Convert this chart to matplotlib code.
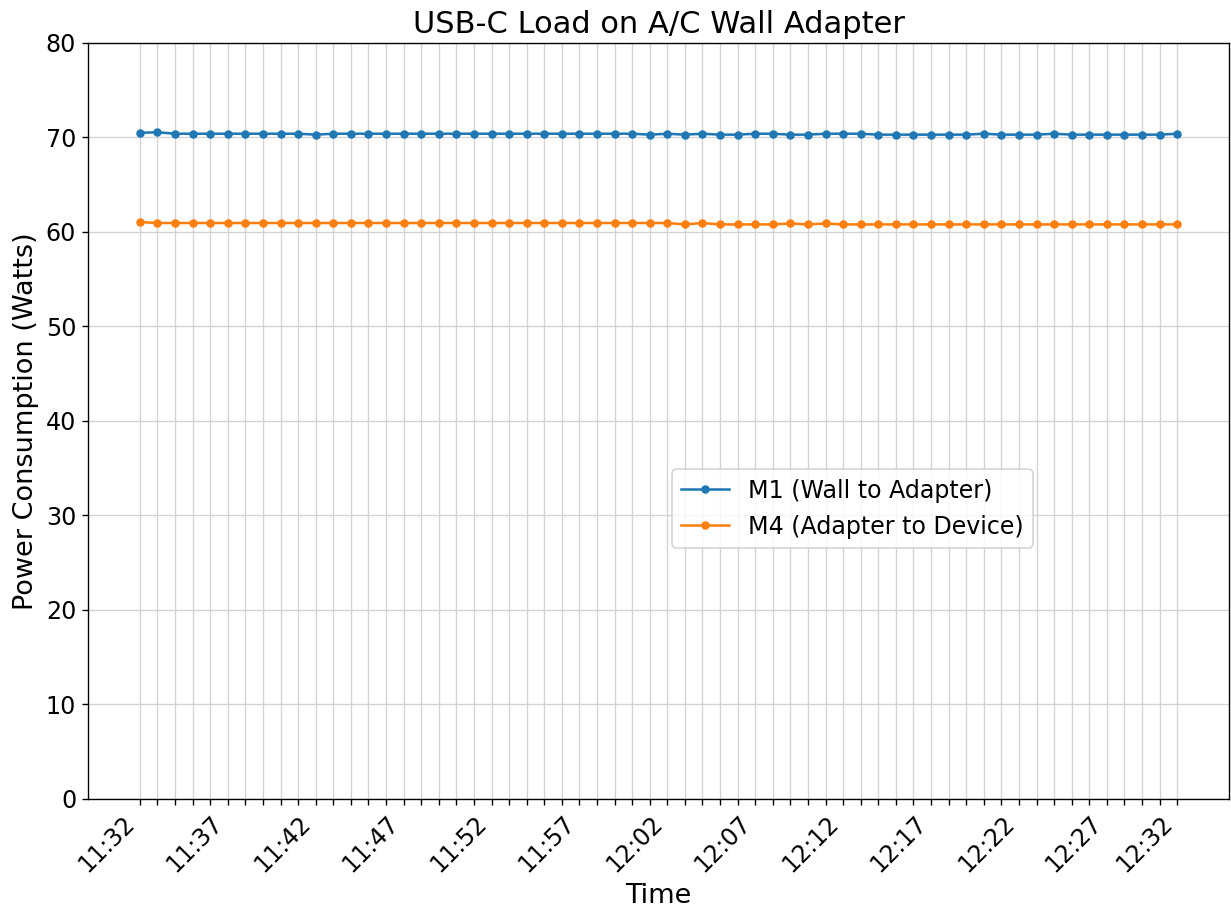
import matplotlib
matplotlib.use("Agg")
import matplotlib.pyplot as plt

# one sample per point, 60 samples between 11:32 and 12:32
m1_watts = [70.5, 70.55, 70.4, 70.4, 70.4, 70.4, 70.4, 70.4, 70.4, 70.4,
            70.3, 70.4, 70.4, 70.4, 70.4, 70.4, 70.4, 70.4, 70.4, 70.4,
            70.4, 70.4, 70.4, 70.4, 70.4, 70.4, 70.4, 70.4, 70.4, 70.3,
            70.4, 70.3, 70.4, 70.3, 70.3, 70.4, 70.4, 70.3, 70.3, 70.4,
            70.4, 70.4, 70.3, 70.3, 70.3, 70.3, 70.3, 70.3, 70.4, 70.3,
            70.3, 70.3, 70.4, 70.3, 70.3, 70.3, 70.3, 70.3, 70.3, 70.4]

m4_watts = [61.05, 60.95, 60.95, 60.95, 60.95, 60.95, 60.95, 60.95, 60.95, 60.95,
            60.95, 60.95, 60.95, 60.95, 60.95, 60.95, 60.95, 60.95, 60.95, 60.95,
            60.95, 60.95, 60.95, 60.95, 60.95, 60.95, 60.95, 60.95, 60.95, 60.95,
            60.95, 60.8, 60.95, 60.8, 60.8, 60.8, 60.8, 60.9, 60.8, 60.9,
            60.8, 60.8, 60.8, 60.8, 60.8, 60.8, 60.8, 60.8, 60.8, 60.8,
            60.8, 60.8, 60.8, 60.8, 60.8, 60.8, 60.8, 60.8, 60.8, 60.8]

label_index = [0, 5, 10, 15, 20, 25, 30, 35, 40, 45, 50, 55, 59]
label_text = ['11:32', '11:37', '11:42', '11:47', '11:52', '11:57', '12:02',
              '12:07', '12:12', '12:17', '12:22', '12:27', '12:32']

x = list(range(len(m1_watts)))
tick_labels = [''] * len(x)
for i, t in zip(label_index, label_text):
    tick_labels[i] = t

DPI = 122
fig = plt.figure(figsize=(1231 / DPI, 907 / DPI), dpi=DPI)
ax = fig.add_subplot(111)
fig.subplots_adjust(left=0.0715, right=0.9984, top=0.9526, bottom=0.1191)

ax.plot(x, m1_watts, marker='o', markersize=4, label='M1 (Wall to Adapter)')
ax.plot(x, m4_watts, marker='o', markersize=4, label='M4 (Adapter to Device)')

ax.set_xticks(x)
ax.set_xticklabels(tick_labels, rotation=45, ha='right', fontsize=14)
ax.tick_params(axis='y', labelsize=14)
ax.set_ylim(0, 80)
ax.grid(True, color='#d3d3d3')
ax.set_axisbelow(True)

ax.set_title('USB-C Load on A/C Wall Adapter', fontsize=18)
ax.set_xlabel('Time', fontsize=16)
ax.set_ylabel('Power Consumption (Watts)', fontsize=16)
ax.legend(loc='center', bbox_to_anchor=(0.67, 0.384), fontsize=14)

plt.savefig('out.png', dpi=DPI)
